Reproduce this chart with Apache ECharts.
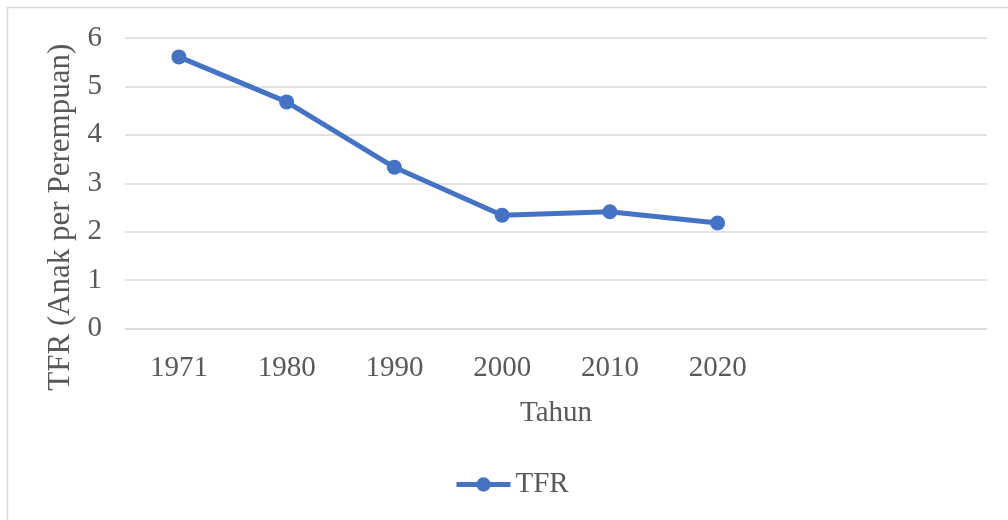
<!DOCTYPE html>
<html>
<head>
<meta charset="UTF-8">
<title>TFR</title>
<style>
  html, body { margin: 0; padding: 0; background: #fff; }
  #main { width: 1008px; height: 520px; }
</style>
</head>
<body>
<div id="main"></div>
<script src="https://cdn.jsdelivr.net/npm/echarts@6/dist/echarts.min.js"></script>
<script>
// data
var years = ['1971', '1980', '1990', '2000', '2010', '2020', '', ''];
var tfr = [5.61, 4.68, 3.33, 2.34, 2.41, 2.18];
var yTicks = [0, 1, 2, 3, 4, 5, 6];

var textColor = '#595959';
var gridColor = '#d9d9d9';
var lineColor = '#4472C4';
var font = 'Liberation Serif';

var myChart = echarts.init(document.getElementById('main'));

myChart.setOption({
    animation: false,
    textStyle: { fontFamily: font },
    // chart area border
    graphic: [{
        type: 'rect',
        shape: { x: 7.5, y: 7.5, width: 1020, height: 530 },
        style: { fill: 'none', stroke: gridColor, lineWidth: 1.5 },
        silent: true
    }],
    grid: { left: 125, right: 21, top: 38, bottom: 191.5, outerBoundsMode: 'none' },
    xAxis: {
        type: 'category',
        data: years,
        boundaryGap: true,
        name: 'Tahun',
        nameLocation: 'middle',
        nameGap: 70,
        nameTextStyle: { color: textColor, fontSize: 29, fontFamily: font },
        axisLine: { lineStyle: { color: gridColor, width: 1.5 } },
        axisTick: { show: false },
        axisLabel: { color: textColor, fontSize: 29, fontFamily: font, margin: 25, interval: 0 }
    },
    yAxis: {
        type: 'value',
        min: yTicks[0],
        max: yTicks[yTicks.length - 1],
        interval: 1,
        name: 'TFR (Anak per Perempuan)',
        nameLocation: 'middle',
        nameGap: 44,
        nameRotate: 90,
        nameTextStyle: { color: textColor, fontSize: 31, fontFamily: font, padding: [0, 68, 0, 0] },
        axisLine: { show: false },
        axisTick: { show: false },
        axisLabel: { color: textColor, fontSize: 29, fontFamily: font, margin: 23 },
        splitLine: { lineStyle: { color: gridColor, width: 1.5 } }
    },
    legend: {
        left: 449,
        top: 465,
        itemWidth: 54,
        itemHeight: 18,
        itemGap: 5,
        lineStyle: { width: 5 },
        textStyle: { color: textColor, fontSize: 29, fontFamily: font },
        data: ['TFR']
    },
    series: [{
        name: 'TFR',
        type: 'line',
        data: tfr,
        symbol: 'circle',
        symbolSize: 15,
        lineStyle: { color: lineColor, width: 5 },
        itemStyle: { color: lineColor }
    }]
});
</script>
</body>
</html>
